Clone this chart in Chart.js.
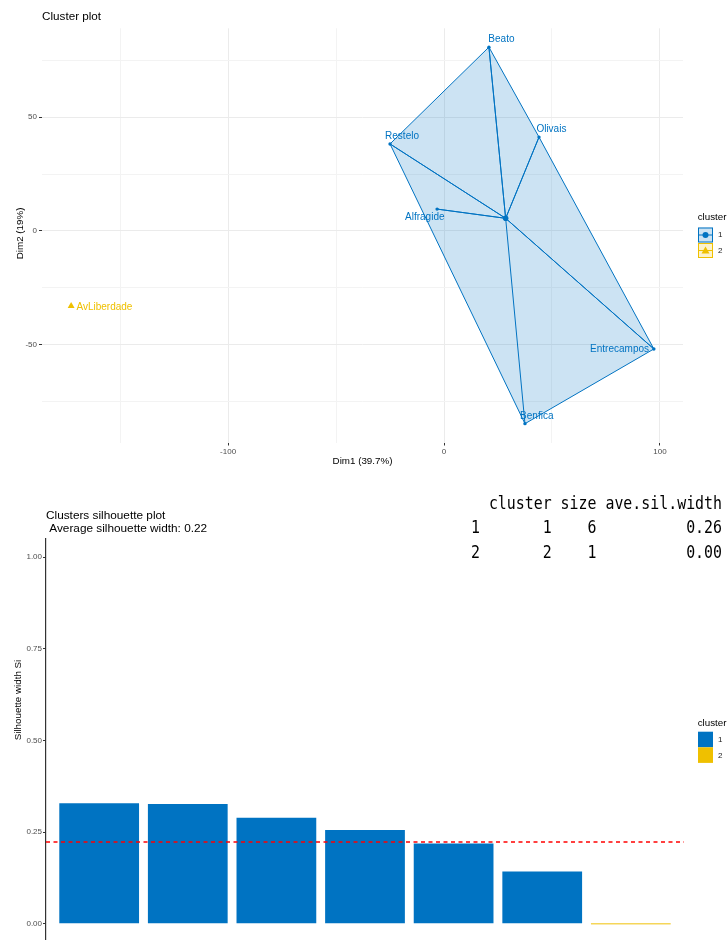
<!DOCTYPE html>
<html>
<head>
<meta charset="utf-8">
<script src="https://cdn.jsdelivr.net/npm/chart.js@4/dist/chart.umd.min.js"></script>
<style>
  html, body { margin: 0; padding: 0; background: #fff; }
  #wrap { position: relative; width: 727px; height: 940px; overflow: hidden; background: #fff; }
  #cluster { position: absolute; left: 0; top: 0; }
  #sil { position: absolute; left: 0; top: 480px; }
  #silTable {
    position: absolute; right: 5px; top: 491.5px; margin: 0;
    font-family: 'DejaVu Sans Mono', monospace; font-size: 14.9px; line-height: 21.4px;
    color: #000; white-space: pre; transform: scaleY(1.13); transform-origin: top right;
  }
</style>
</head>
<body>
<div id="wrap">
  <canvas id="cluster" width="727" height="475"></canvas>
  <canvas id="sil" width="727" height="460"></canvas>
  <pre id="silTable"></pre>
</div>
<script>
// ---- PCA coordinates of each district (Dim1, Dim2) and cluster membership
const districts = ['Beato', 'Olivais', 'Restelo', 'Alfragide', 'Entrecampos', 'Benfica', 'AvLiberdade'];
const dim1 = [20.8, 44.0, -25.0, -3.2, 97.2, 37.5, -172.7];
const dim2 = [80.7, 41.2, 38.2, 9.6, -51.8, -84.6, -32.9];
const clusterOf = [1, 1, 1, 1, 1, 1, 2];
const dim1Labels = [-100, 0, 100];
const dim2Labels = [-50, 0, 50];
const dim1Title = 'Dim1 (39.7%)';
const dim2Title = 'Dim2 (19%)';

// ---- silhouette widths, sorted within cluster
const silWidth = [0.329, 0.327, 0.289, 0.256, 0.219, 0.143, 0.0];
const silCluster = [1, 1, 1, 1, 1, 1, 2];
const silTicks = [0, 0.25, 0.5, 0.75, 1];

// ---- styling
const clusterColor = { 1: '#0073C2', 2: '#EFC000' };
const clusterFill = { 1: 'rgba(0,115,194,0.2)', 2: 'rgba(239,192,0,0.2)' };
const FONT = "'Liberation Sans', Arial, Helvetica, sans-serif";
const TICK_COLOR = '#4D4D4D';
// label nudges in pixels: [dx, dy, align]
const labelNudge = {
  Beato: [12.5, -7.5, 'center'], Olivais: [12.4, -7.4, 'center'], Restelo: [12, -7.3, 'center'],
  Alfragide: [-12.3, 8.3, 'center'], Entrecampos: [-34.3, 0.7, 'center'], Benfica: [11.8, -7, 'center'],
  AvLiberdade: [5.3, 1.5, 'left']
};

function convexHull(pts) {
  const p = pts.slice().sort((a, b) => a.x - b.x || a.y - b.y);
  const cross = (o, a, b) => (a.x - o.x) * (b.y - o.y) - (a.y - o.y) * (b.x - o.x);
  const lower = [];
  for (const q of p) {
    while (lower.length >= 2 && cross(lower[lower.length - 2], lower[lower.length - 1], q) <= 0) lower.pop();
    lower.push(q);
  }
  const upper = [];
  for (let i = p.length - 1; i >= 0; i--) {
    const q = p[i];
    while (upper.length >= 2 && cross(upper[upper.length - 2], upper[upper.length - 1], q) <= 0) upper.pop();
    upper.push(q);
  }
  upper.pop(); lower.pop();
  return lower.concat(upper);
}

function text(ctx, s, x, y, size, color, align, rot) {
  ctx.save();
  ctx.font = size + 'px ' + FONT;
  ctx.fillStyle = color;
  ctx.textAlign = align || 'left';
  ctx.textBaseline = 'middle';
  ctx.translate(x, y);
  if (rot) ctx.rotate(rot);
  ctx.fillText(s, 0, 0);
  ctx.restore();
}

// ---- cluster 1 geometry
const c1 = districts.map((d, i) => ({ x: dim1[i], y: dim2[i], c: clusterOf[i] })).filter(p => p.c === 1);
const centroid = {
  x: c1.reduce((s, p) => s + p.x, 0) / c1.length,
  y: c1.reduce((s, p) => s + p.y, 0) / c1.length
};
const hull = convexHull(c1);
const hullClosed = hull.concat([hull[0]]);
const spokes = [];
c1.forEach(p => { spokes.push({ x: centroid.x, y: centroid.y }); spokes.push({ x: p.x, y: p.y }); });

// axis limits with 5% expansion
const expand = (arr) => { const lo = Math.min(...arr), hi = Math.max(...arr), r = hi - lo; return [lo - 0.05 * r, hi + 0.05 * r]; };
const [xMin, xMax] = expand(dim1);
const [yMin, yMax] = expand(dim2);

const clusterPlotOverlay = {
  id: 'clusterPlotOverlay',
  afterDatasetsDraw(chart) {
    const { ctx, scales: { x, y } } = chart;
    districts.forEach((name, i) => {
      const [dx, dy, align] = labelNudge[name];
      text(ctx, name, x.getPixelForValue(dim1[i]) + dx, y.getPixelForValue(dim2[i]) + dy, 10,
        clusterColor[clusterOf[i]], align, 0);
    });
  },
  afterDraw(chart) {
    const { ctx, chartArea: a } = chart;
    text(ctx, 'Cluster plot', 42, 17, 11.7, '#000', 'left', 0);
    text(ctx, dim1Title, (a.left + a.right) / 2, 461.7, 9.8, '#000', 'center', 0);
    text(ctx, dim2Title, 20, (a.top + a.bottom) / 2 - 2, 9.8, '#000', 'center', -Math.PI / 2);
    // legend
    text(ctx, 'cluster', 697.7, 217.3, 9.8, '#000', 'left', 0);
    [1, 2].forEach((c, k) => {
      const bx = 698, by = 227.5 + k * 15.5, w = 15, h = 15;
      ctx.save();
      ctx.fillStyle = clusterFill[c];
      ctx.fillRect(bx, by, w, h);
      ctx.strokeStyle = clusterColor[c];
      ctx.lineWidth = 1;
      ctx.strokeRect(bx + 0.5, by + 0.5, w - 1, h - 1);
      ctx.beginPath();
      ctx.moveTo(bx + 1, by + h / 2); ctx.lineTo(bx + w - 1, by + h / 2); ctx.stroke();
      ctx.fillStyle = clusterColor[c];
      ctx.beginPath();
      if (c === 1) {
        ctx.arc(bx + w / 2, by + h / 2, 3, 0, Math.PI * 2);
      } else {
        ctx.moveTo(bx + w / 2, by + h / 2 - 4); ctx.lineTo(bx + w / 2 + 4, by + h / 2 + 3); ctx.lineTo(bx + w / 2 - 4, by + h / 2 + 3); ctx.closePath();
      }
      ctx.fill();
      ctx.restore();
      text(ctx, String(c), 718, by + h / 2, 8, '#1a1a1a', 'left', 0);
    });
  }
};

new Chart(document.getElementById('cluster'), {
  type: 'scatter',
  data: {
    datasets: [
      { label: 'hull', data: hullClosed, showLine: true, fill: 'shape', backgroundColor: clusterFill[1],
        borderColor: clusterColor[1], borderWidth: 1, pointRadius: 0, order: 4 },
      { label: 'spokes', data: spokes, showLine: true, fill: false, borderColor: clusterColor[1],
        borderWidth: 1, pointRadius: 0, order: 3 },
      { label: '1', data: c1.map(p => ({ x: p.x, y: p.y })), pointRadius: 1.7, pointBorderWidth: 0,
        backgroundColor: clusterColor[1], order: 2 },
      { label: 'centroid', data: [centroid], pointRadius: 2.8, pointBorderWidth: 0,
        backgroundColor: clusterColor[1], order: 1 },
      { label: '2', data: districts.map((d, i) => ({ x: dim1[i], y: dim2[i], c: clusterOf[i] })).filter(p => p.c === 2),
        pointStyle: 'triangle', pointRadius: 4, pointBorderWidth: 0, backgroundColor: clusterColor[2], order: 0 }
    ]
  },
  options: {
    responsive: false, animation: false,
    layout: { padding: { left: 0, top: 28.3, right: 44, bottom: 18.5 } },
    plugins: { legend: { display: false }, tooltip: { enabled: false } },
    scales: {
      x: {
        type: 'linear', min: xMin, max: xMax,
        afterFit: s => { s.height = 14; },
        border: { display: false },
        grid: {
          color: c => (c.tick && c.tick.value % 100 === 0) ? '#EBEBEB' : '#F3F3F3',
          tickColor: c => (c.tick && dim1Labels.includes(c.tick.value)) ? '#333' : 'rgba(0,0,0,0)',
          tickLength: 3, lineWidth: 1
        },
        ticks: {
          stepSize: 50, includeBounds: false, autoSkip: false, maxRotation: 0, padding: 1,
          color: TICK_COLOR, font: { family: FONT, size: 8 },
          callback: v => dim1Labels.includes(v) ? String(v) : ''
        }
      },
      y: {
        type: 'linear', min: yMin, max: yMax,
        afterFit: s => { s.width = 42; },
        border: { display: false },
        grid: {
          color: c => (c.tick && c.tick.value % 50 === 0) ? '#EBEBEB' : '#F3F3F3',
          tickColor: c => (c.tick && dim2Labels.includes(c.tick.value)) ? '#333' : 'rgba(0,0,0,0)',
          tickLength: 3, lineWidth: 1
        },
        ticks: {
          stepSize: 25, includeBounds: false, autoSkip: false, padding: 2,
          color: TICK_COLOR, font: { family: FONT, size: 8 },
          callback: v => dim2Labels.includes(v) ? String(v) : ''
        }
      }
    }
  },
  plugins: [clusterPlotOverlay]
});

// ---- silhouette plot
const avgSil = silWidth.reduce((s, v) => s + v, 0) / silWidth.length;
const silX = silWidth.map((v, i) => i + 1);
const silXMin = 0.4, silXMax = silWidth.length + 0.6;

const silOverlay = {
  id: 'silOverlay',
  afterDraw(chart) {
    const { ctx } = chart;
    text(ctx, 'Clusters silhouette plot', 46, 35.7, 11.8, '#000', 'left', 0);
    text(ctx, ' Average silhouette width: ' + avgSil.toFixed(2), 46, 48.7, 11.8, '#000', 'left', 0);
    text(ctx, 'Silhouette width Si', 18, 220, 9.8, '#000', 'center', -Math.PI / 2);
    text(ctx, 'cluster', 697.7, 243.3, 9.8, '#000', 'left', 0);
    [1, 2].forEach((c, k) => {
      const by = 251.7 + k * 15.6;
      ctx.save();
      ctx.fillStyle = clusterColor[c];
      ctx.fillRect(698, by, 15, 15.6);
      ctx.restore();
      text(ctx, String(c), 718, by + 8, 8, '#1a1a1a', 'left', 0);
    });
  }
};

new Chart(document.getElementById('sil'), {
  type: 'bar',
  data: {
    datasets: [
      { type: 'bar', data: silWidth.map((v, i) => ({ x: silX[i], y: v })),
        backgroundColor: silCluster.map(c => c === 1 ? clusterColor[1] : 'rgba(239,192,0,0.65)'),
        borderWidth: 0, barPercentage: 0.9, categoryPercentage: 1, minBarLength: 1.5, order: 1 },
      { type: 'line', data: [{ x: silXMin, y: avgSil }, { x: silXMax, y: avgSil }],
        borderColor: '#FF0000', borderWidth: 1.5, borderDash: [4, 3.5], pointRadius: 0, fill: false, order: 0 }
    ]
  },
  options: {
    responsive: false, animation: false,
    layout: { padding: { left: 0, top: 58.7, right: 43, bottom: 0 } },
    plugins: { legend: { display: false }, tooltip: { enabled: false } },
    scales: {
      x: {
        type: 'linear', min: silXMin, max: silXMax, offset: false, display: false,
        ticks: { stepSize: 1, includeBounds: false }
      },
      y: {
        type: 'linear', min: -0.044, max: 1.05,
        afterFit: s => { s.width = 46; s.paddingTop = 0; s.paddingBottom = 0; },
        border: { display: true, color: '#333', width: 1.2 },
        grid: { drawOnChartArea: false, drawTicks: true, tickLength: 3, tickColor: '#333' },
        afterBuildTicks: s => { s.ticks = silTicks.map(v => ({ value: v })); },
        ticks: {
          padding: 1, color: TICK_COLOR, font: { family: FONT, size: 8 },
          callback: v => Number(v).toFixed(2)
        }
      }
    }
  },
  plugins: [silOverlay]
});

// ---- summary table per cluster
const clusterIds = [...new Set(silCluster)];
const sizes = clusterIds.map(c => silCluster.filter(k => k === c).length);
const aveWidth = clusterIds.map(c => {
  const v = silWidth.filter((w, i) => silCluster[i] === c);
  return v.reduce((s, x) => s + x, 0) / v.length;
});
const lines = ['  cluster size ave.sil.width'];
clusterIds.forEach((c, i) => {
  lines.push(String(i + 1) + String(c).padStart(8) + String(sizes[i]).padStart(5) + aveWidth[i].toFixed(2).padStart(14));
});
document.getElementById('silTable').textContent = lines.join('\n');
</script>
</body>
</html>
